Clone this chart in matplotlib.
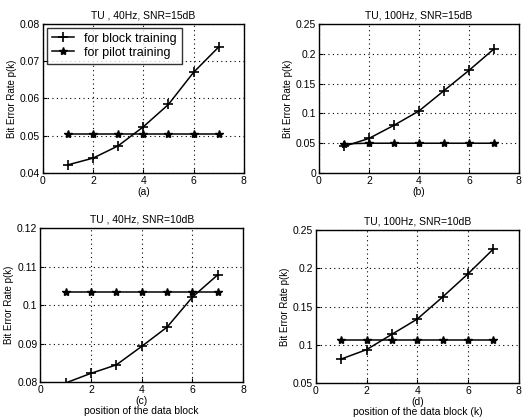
import matplotlib
matplotlib.use("Agg")
import matplotlib.pyplot as plt

plt.rcParams.update({
    "font.family": ["Liberation Sans", "DejaVu Sans"],
    "font.size": 7,
    "axes.linewidth": 1.0,
    "xtick.direction": "in",
    "ytick.direction": "in",
})

k = [1, 2, 3, 4, 5, 6, 7]

block_a = [0.0422, 0.0440, 0.0473, 0.0524, 0.0584, 0.0670, 0.0738]
pilot_a = [0.0505, 0.0505, 0.0505, 0.0505, 0.0505, 0.0505, 0.0505]

block_b = [0.0446, 0.0580, 0.0800, 0.1040, 0.1380, 0.1720, 0.2080]
pilot_b = [0.0490, 0.0500, 0.0500, 0.0500, 0.0500, 0.0500, 0.0500]

block_c = [0.0798, 0.0823, 0.0845, 0.0893, 0.0943, 0.1021, 0.1079]
pilot_c = [0.1035, 0.1035, 0.1035, 0.1035, 0.1035, 0.1035, 0.1035]

block_d = [0.0814, 0.0937, 0.1138, 0.1338, 0.1627, 0.1930, 0.2255]
pilot_d = [0.1059, 0.1059, 0.1059, 0.1059, 0.1059, 0.1059, 0.1059]

panels = [
    # rect, title, xlabel, ylim, yticks, block, pilot
    ([0.082, 0.588, 0.385, 0.355], "TU , 40Hz, SNR=15dB", "(a)",
     (0.04, 0.08), [0.04, 0.05, 0.06, 0.07, 0.08], block_a, pilot_a),
    ([0.611, 0.588, 0.383, 0.355], "TU, 100Hz, SNR=15dB", "(b)",
     (0, 0.25), [0, 0.05, 0.1, 0.15, 0.2, 0.25], block_b, pilot_b),
    ([0.077, 0.090, 0.389, 0.367], "TU , 40Hz, SNR=10dB",
     "(c)\nposition of the data block",
     (0.08, 0.12), [0.08, 0.09, 0.1, 0.11, 0.12], block_c, pilot_c),
    ([0.605, 0.088, 0.389, 0.364], "TU, 100Hz, SNR=10dB",
     "(d)\nposition of the data block (k)",
     (0.05, 0.25), [0.05, 0.1, 0.15, 0.2, 0.25], block_d, pilot_d),
]

fig = plt.figure(figsize=(5.22, 4.2), dpi=100)

for i, (rect, title, xlabel, ylim, yticks, blk, plt_) in enumerate(panels):
    ax = fig.add_axes(rect)
    ax.plot(k, blk, "-", color="black", marker="+", ms=7, mew=1.2, lw=1.1,
            label="for block training")
    ax.plot(k, plt_, "-", color="black", marker="*", ms=6, lw=1.1,
            label="for pilot training")
    ax.set_xlim(0, 8)
    ax.set_ylim(*ylim)
    ax.set_xticks([0, 2, 4, 6, 8])
    ax.set_yticks(yticks)
    ax.set_yticklabels([f"{v:g}" for v in yticks])
    ax.grid(True, color="black", ls=(0, (1, 3)), lw=0.8)
    ax.set_title(title, fontsize=7.5, pad=4)
    ax.set_xlabel(xlabel, fontsize=7.5, labelpad=1, linespacing=1.0)
    ax.set_ylabel("Bit Error Rate p(k)", fontsize=7, labelpad=2)
    ax.tick_params(labelsize=7.5, length=3, width=0.8, pad=2)
    for s in ax.spines.values():
        s.set_color("black")
    if i == 0:
        leg = ax.legend(loc="upper left", fontsize=9, frameon=True,
                        fancybox=False, edgecolor="black",
                        handlelength=1.8, borderaxespad=0.3,
                        labelspacing=0.15, borderpad=0.4)
        leg.get_frame().set_linewidth(1.0)

fig.savefig("out.png", dpi=100)
